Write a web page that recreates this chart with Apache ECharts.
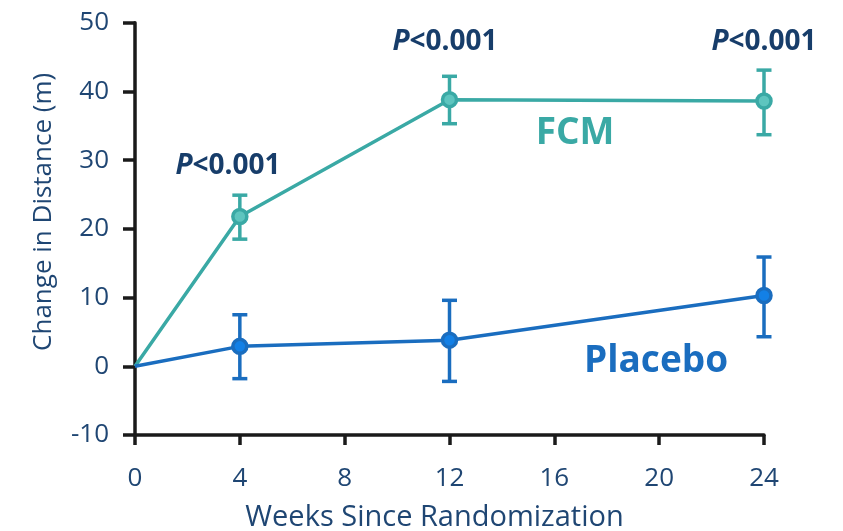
<!DOCTYPE html>
<html>
<head>
<meta charset="utf-8">
<script src="https://cdn.jsdelivr.net/npm/echarts@6/dist/echarts.min.js"></script>
<style>html,body{margin:0;padding:0;background:#fff;}#c{width:843px;height:531px;}</style>
</head>
<body>
<div id="c"></div>
<script>
const weeks = [0, 4, 12, 24];
const fcm = [0, 21.8, 38.8, 38.6];
const fcmHigh = [null, 24.9, 42.2, 43.1];
const fcmLow = [null, 18.5, 35.3, 33.7];
const placebo = [0, 2.9, 3.8, 10.3];
const placeboHigh = [null, 7.5, 9.6, 15.9];
const placeboLow = [null, -1.8, -2.2, 4.3];
const xTicks = [0, 4, 8, 12, 16, 20, 24];
const yTicks = [-10, 0, 10, 20, 30, 40, 50];
const pLabels = [
  { week: 3.55, value: 29.1, text: 'P<0.001' },
  { week: 11.83, value: 47.2, text: 'P<0.001' },
  { week: 24.0, value: 47.2, text: 'P<0.001' }
];
const seriesLabels = [
  { week: 16.79, value: 33.95, text: 'FCM', color: '#3aa9a5' },
  { week: 19.88, value: 0.73, text: 'Placebo', color: '#1a6dbf' }
];

const FONT = '"Open Sans", "Noto Sans", sans-serif';
const TXT = '#1f4673';
const FCM_C = '#3aa9a5', FCM_F = '#5ec5bf';
const PLA_C = '#1a6dbf', PLA_F = '#1380e6';

function lineData(vals) {
  return weeks.map((w, i) => i === 0 ? { value: [w, vals[i]], symbol: 'none' } : { value: [w, vals[i]] });
}
function errData(lo, hi) {
  const out = [];
  weeks.forEach((w, i) => { if (lo[i] != null) out.push([w, lo[i], hi[i]]); });
  return out;
}
function errSeries(lo, hi, color) {
  return {
    type: 'custom', z: 1,
    data: errData(lo, hi),
    encode: { x: 0, y: [1, 2] },
    renderItem: function (params, api) {
      const x = api.value(0);
      const pLo = api.coord([x, api.value(1)]);
      const pHi = api.coord([x, api.value(2)]);
      const hw = 7.5;
      const st = { stroke: color, lineWidth: 3.5, fill: null };
      return {
        type: 'group',
        children: [
          { type: 'line', shape: { x1: pLo[0], y1: pLo[1], x2: pHi[0], y2: pHi[1] }, style: st },
          { type: 'line', shape: { x1: pLo[0] - hw, y1: pLo[1], x2: pLo[0] + hw, y2: pLo[1] }, style: st },
          { type: 'line', shape: { x1: pHi[0] - hw, y1: pHi[1], x2: pHi[0] + hw, y2: pHi[1] }, style: st }
        ]
      };
    }
  };
}

const chart = echarts.init(document.getElementById('c'), null, { renderer: 'canvas' });
chart.setOption({
  animation: false,
  backgroundColor: '#ffffff',
  grid: { left: 135, right: 79, top: 22.7, bottom: 96, containLabel: false, outerBoundsMode: 'none' },
  xAxis: {
    type: 'value', min: 0, max: 24, interval: 4,
    name: 'Weeks Since Randomization', nameLocation: 'middle', nameGap: 68,
    nameTextStyle: { fontFamily: FONT, fontSize: 29, color: TXT, padding: [0, 30, 0, 0] },
    axisLine: { show: true, onZero: false, lineStyle: { color: '#1a1a1a', width: 3.5 } },
    axisTick: { show: true, length: 10, lineStyle: { color: '#1a1a1a', width: 3.5 } },
    axisLabel: { fontFamily: FONT, fontSize: 26, color: TXT, margin: 31,
      formatter: v => xTicks.includes(v) ? String(v) : '' },
    splitLine: { show: false }
  },
  yAxis: {
    type: 'value', min: -10, max: 50, interval: 10,
    name: 'Change in Distance (m)', nameLocation: 'middle', nameGap: 78,
    nameTextStyle: { fontFamily: FONT, fontSize: 26, color: TXT, padding: [0, 0, 0, 34] },
    axisLine: { show: true, onZero: false, lineStyle: { color: '#1a1a1a', width: 3.5 } },
    axisTick: { show: true, length: 12, lineStyle: { color: '#1a1a1a', width: 3.5 } },
    axisLabel: { fontFamily: FONT, fontSize: 26, color: TXT, margin: 26,
      formatter: v => yTicks.includes(v) ? String(v) : '' },
    splitLine: { show: false }
  },
  series: [
    errSeries(fcmLow, fcmHigh, FCM_C),
    errSeries(placeboLow, placeboHigh, PLA_C),
    {
      type: 'line', z: 3, data: lineData(fcm),
      symbol: 'circle', symbolSize: 14,
      lineStyle: { color: FCM_C, width: 3.5 },
      itemStyle: { color: FCM_F, borderColor: FCM_C, borderWidth: 3.5 }
    },
    {
      type: 'line', z: 3, data: lineData(placebo),
      symbol: 'circle', symbolSize: 14,
      lineStyle: { color: PLA_C, width: 3.5 },
      itemStyle: { color: PLA_F, borderColor: PLA_C, borderWidth: 3.5 }
    },
    {
      type: 'scatter', z: 5, symbol: 'circle', symbolSize: 1, silent: true,
      itemStyle: { color: 'rgba(0,0,0,0)', opacity: 1 },
      data: pLabels.map(p => ({ value: [p.week, p.value], name: p.text })),
      label: {
        show: true, position: 'inside',
        formatter: () => '{i|P}{b|<0.001}',
        rich: {
          i: { fontFamily: FONT, fontSize: 28, fontWeight: 'bold', fontStyle: 'italic', color: '#173d6a' },
          b: { fontFamily: FONT, fontSize: 28, fontWeight: 'bold', color: '#173d6a' }
        }
      }
    },
    {
      type: 'scatter', z: 5, symbol: 'circle', symbolSize: 1, silent: true,
      itemStyle: { color: 'rgba(0,0,0,0)', opacity: 1 },
      data: seriesLabels.map(s => ({ value: [s.week, s.value], name: s.text,
        label: { color: s.color } })),
      label: {
        show: true, position: 'inside', formatter: p => p.name,
        fontFamily: FONT, fontSize: 37, fontWeight: 'bold'
      }
    }
  ]
});
</script>
</body>
</html>
